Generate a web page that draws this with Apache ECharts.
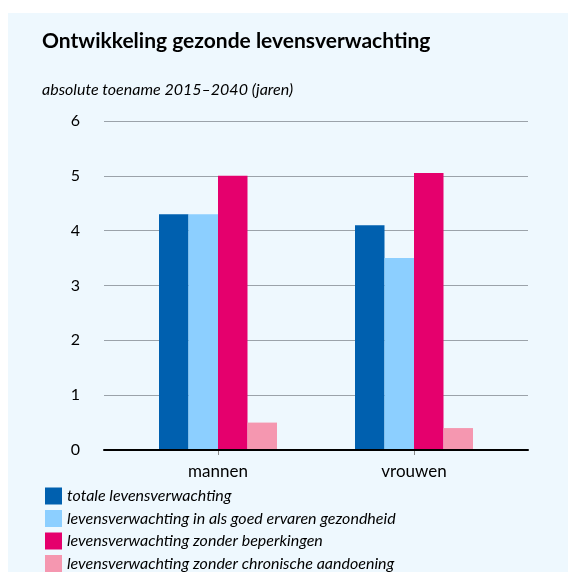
<!DOCTYPE html>
<html>
<head>
<meta charset="utf-8">
<script src="https://cdn.jsdelivr.net/npm/echarts@6/dist/echarts.min.js"></script>
<style>
html,body{margin:0;padding:0;background:#ffffff;}
#chart{width:569px;height:572px;}
</style>
</head>
<body>
<div id="chart"></div>
<script>
var titleText = 'Ontwikkeling gezonde levensverwachting';
var subtitleText = 'absolute toename 2015\u20132040 (jaren)';
var categories = ['mannen', 'vrouwen'];
var seriesNames = [
  'totale levensverwachting',
  'levensverwachting in als goed ervaren gezondheid',
  'levensverwachting zonder beperkingen',
  'levensverwachting zonder chronische aandoening'
];
var totale = [4.3, 4.1];
var goedErvaren = [4.3, 3.5];
var zonderBeperkingen = [5.0, 5.05];
var zonderChronisch = [0.5, 0.4];
var colors = ['#0060af', '#8ccfff', '#e5006d', '#f597b0'];
var yMin = 0, yMax = 6, yInterval = 1;

var seriesData = [totale, goedErvaren, zonderBeperkingen, zonderChronisch];
var font = 'Lato';

var legends = seriesNames.map(function (name, i) {
  return {
    orient: 'vertical', left: 45, top: 487.5 + i * 22.5, padding: 0,
    itemWidth: 17, itemHeight: 17, itemGap: 0,
    icon: 'rect',
    textStyle: {fontFamily: font, fontStyle: 'italic', fontSize: 16, color: '#000'},
    data: [name]
  };
});

var chart = echarts.init(document.getElementById('chart'), null, {renderer: 'canvas'});
chart.setOption({
  animation: false,
  backgroundColor: '#ffffff',
  graphic: [{
    type: 'rect', z: -10, silent: true,
    shape: {x: 8, y: 13, width: 560, height: 570},
    style: {fill: '#eef8fe'}
  }],
  color: colors,
  title: [{
    text: titleText, left: 42, top: 31, padding: 0,
    textStyle: {fontFamily: font, fontWeight: 'bold', fontSize: 21, color: '#000'}
  }, {
    text: subtitleText, left: 42, top: 82, padding: 0,
    textStyle: {fontFamily: font, fontStyle: 'italic', fontWeight: 'normal', fontSize: 16, color: '#000'}
  }],
  legend: legends,
  grid: [
    {left: 104, right: 41, top: 121, bottom: 122},
    {left: 120, right: 57, top: 121, bottom: 122}
  ],
  xAxis: [{
    type: 'category', gridIndex: 0, data: [''], z: 10,
    axisLine: {show: true, lineStyle: {color: '#000', width: 2}},
    axisTick: {show: false}, axisLabel: {show: false}, splitLine: {show: false}
  }, {
    type: 'category', gridIndex: 1, data: categories,
    axisLine: {show: false},
    axisTick: {show: true, alignWithLabel: true, length: 5, lineStyle: {color: '#888'}},
    axisLabel: {fontFamily: font, fontSize: 17, color: '#000', margin: 13}
  }],
  yAxis: [{
    type: 'value', gridIndex: 0, min: yMin, max: yMax, interval: yInterval,
    axisLine: {show: false}, axisTick: {show: false},
    axisLabel: {fontFamily: font, fontSize: 16, color: '#000', margin: 24},
    splitLine: {show: true, lineStyle: {color: '#9ba3aa', width: 1}}
  }, {
    type: 'value', gridIndex: 1, min: yMin, max: yMax, interval: yInterval,
    axisLine: {show: false}, axisTick: {show: false}, axisLabel: {show: false},
    splitLine: {show: false}
  }],
  series: seriesNames.map(function (name, i) {
    return {
      name: name, type: 'bar', xAxisIndex: 1, yAxisIndex: 1,
      data: seriesData[i], barWidth: 29.5, barGap: '0%',
      itemStyle: {color: colors[i]}
    };
  })
});
</script>
</body>
</html>
